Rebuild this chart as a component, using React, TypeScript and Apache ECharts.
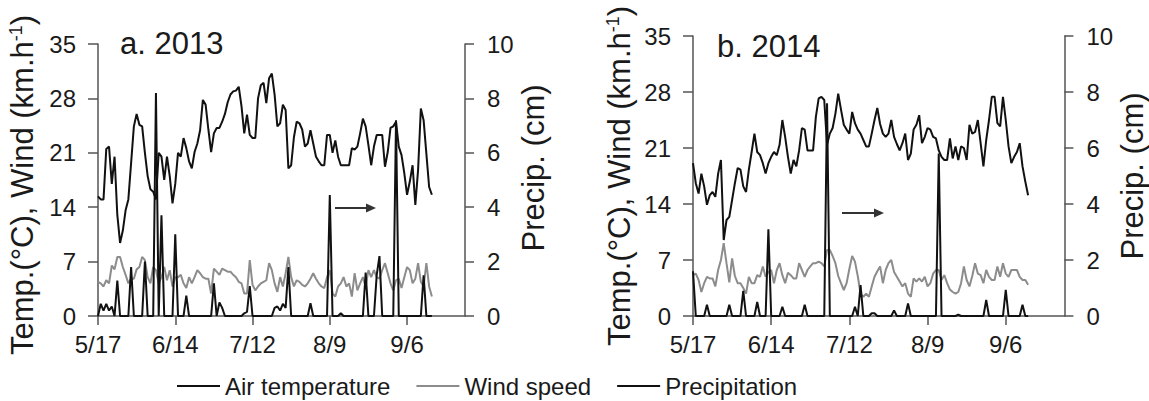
import React, { useEffect, useRef } from 'react';
import * as echarts from 'echarts';

const tickDays = [0, 28, 56, 84, 112];
const tickLabels = ['5/17', '6/14', '7/12', '8/9', '9/6'];
const panelTitles = ['a. 2013', 'b. 2014'];
const seriesNames = ['Air temperature', 'Wind speed', 'Precipitation'];

const temp2013 = [
  15.4, 15, 15, 21.5, 21.8, 17, 20.5, 13, 9.4, 11,
  13.6, 15, 19.7, 24.4, 26, 24.6, 24.4, 21, 18, 16.3,
  16, 15, 21, 20.5, 17.5, 20.5, 18, 14.5, 17, 21,
  20.5, 22.9, 21.6, 19.9, 19, 21.1, 22.2, 23.9, 27.8, 27.2,
  24, 21.1, 23.5, 24.2, 24.2, 25, 26, 27.5, 28.5, 28.9,
  29, 29.5, 27, 23.5, 25.9, 23.3, 22.9, 22.9, 28, 29.7,
  30, 27.4, 30.6, 31.2, 28.5, 24.4, 24.8, 27.2, 26.5, 19,
  19.4, 23, 25, 24.8, 24, 21.8, 22.2, 23.9, 22.2, 20.5,
  19.9, 19.4, 19.4, 23.3, 23.3, 21, 22.6, 20.5, 19.4, 19.4,
  19.4, 19.4, 21.6, 21.4, 21.8, 23.5, 25.4, 24.4, 22, 19.4,
  21.8, 23.3, 23.3, 23.3, 19.2, 21.1, 24.2, 24.4, 25, 21.8,
  20.7, 18.4, 15.6, 17.3, 19.4, 14.3, 18.8, 26.7, 25.2, 20.9,
  16.6, 15.6,
];
const wind2013 = [
  4.4, 4.2, 3.8, 4.6, 4.2, 6.5, 6, 7.6, 7.6, 6.3,
  5.3, 4.2, 4.8, 4.8, 6, 6.3, 7.6, 7.2, 5, 4.2,
  6.3, 5.9, 4.2, 5, 6.3, 4.6, 5.9, 3.8, 5, 5,
  5.3, 4.2, 3.6, 5, 4.2, 5, 5.9, 5.5, 5, 4.8,
  4.8, 2.9, 6.1, 5.7, 5.3, 6.1, 5.9, 5.7, 5.7, 5.3,
  5, 4.4, 4.2, 2.9, 2.9, 7.2, 4, 3.3, 3.8, 4.2,
  4.4, 4.6, 6.8, 5.9, 4.2, 3.1, 5, 3.8, 5.5, 7.6,
  5, 3.8, 4.6, 4.4, 4, 3.8, 4.2, 4.8, 5.5, 4.8,
  4.2, 3.8, 3.6, 5, 5.9, 2.9, 2.5, 3.8, 4.2, 5,
  3.8, 4.2, 2.5, 5.5, 3.3, 4.2, 5, 3.8, 5.9, 5,
  5.9, 5, 4.8, 5.9, 6.8, 5.5, 4.2, 3.3, 4.6, 4.8,
  3.6, 5, 6.3, 5.9, 4.2, 4.8, 6.8, 4.4, 3.8, 6.8,
  3.8, 2.5,
];
const precip2013 = [
  0, 0.45, 0.2, 0.45, 0.2, 0.35, 0, 1.3, 0, 0,
  0, 0, 1.8, 0, 0, 0, 0, 2.0, 0, 0,
  0, 8.2, 0, 3.7, 0, 0, 0, 0, 3.0, 0,
  0, 0, 0.75, 0, 0, 0, 0, 0, 0, 0,
  0, 0, 1.2, 0, 0.5, 0.3, 0, 0, 0, 0,
  0, 0, 0, 0.1, 0.15, 1.1, 0, 0, 0, 0,
  0, 0, 0, 0, 0.3, 0.35, 0.2, 0.45, 0.3, 1.8,
  0, 0, 0, 0, 0, 0, 0, 0.47, 0, 0,
  0, 0, 0, 0, 4.45, 0, 0, 0, 0.1, 0,
  0, 0, 0, 0, 0, 0, 0, 1.6, 0, 0,
  0, 1.5, 2.2, 0, 0, 0, 0, 0, 7.2, 0,
  0, 0, 0, 0, 0, 0, 0, 0, 1.5, 0,
  0, 0,
];

const temp2014 = [
  19.1, 16.6, 15.3, 17.8, 16.2, 13.9, 15.1, 15.5, 14.9, 17.8,
  19.5, 9.5, 12, 12.4, 14.5, 16.6, 18.5, 18.3, 16.2, 15.5,
  18.3, 20.5, 22.8, 20.5, 20.1, 19.1, 17.8, 19.1, 19.9, 20.5,
  20.1, 21.4, 24.5, 22.4, 19.9, 17.8, 19.5, 18.7, 20.7, 23.5,
  23.3, 20.7, 20.7, 20.7, 24.9, 27.2, 27.4, 27, 21.4, 22.8,
  23.5, 25.3, 27.8, 25.8, 23.9, 23.3, 22.8, 25.5, 24.1, 23.3,
  22.8, 22, 21.2, 21.2, 22.8, 24.5, 26, 24, 22.8, 22.4,
  22.8, 24.5, 22.4, 21.5, 20.7, 21.6, 22.8, 19.5, 20.3, 23.3,
  23.9, 25.1, 21.6, 22.4, 23.5, 23.3, 22.4, 22.2, 20.7, 19.9,
  19.5, 19.5, 22.2, 19.7, 21.2, 19.5, 21.2, 21, 19.5, 23.9,
  22.8, 23, 24.5, 21.6, 18.7, 22, 24.5, 27.4, 27.4, 24.1,
  23.7, 27.4, 24.5, 21.2, 19.1, 19.9, 20.5, 21.6, 18.7, 16.8,
  15.1,
];
const wind2014 = [
  5.1, 5.3, 4.5, 3, 4.1, 4.9, 4.7, 4.7, 3.7, 5.75,
  7, 9.1, 6.6, 4.2, 7.2, 5, 4.1, 4.1, 3.5, 2.8,
  4.9, 4.1, 4.1, 5.1, 4.9, 6.2, 4.9, 5.5, 5.75, 4.1,
  5.75, 6.6, 5.1, 4.1, 5.4, 5.1, 4.7, 4.7, 6.6, 5.75,
  4.9, 5.75, 6.2, 6.6, 6.6, 6.8, 6.6, 6.2, 8.25, 8.25,
  7.5, 6.6, 5, 4.1, 3.25, 4.1, 5.9, 7.5, 6.8, 5,
  2.8, 2.4, 2.8, 2.4, 3.7, 4.9, 5.6, 6.2, 4.1, 5.75,
  6.6, 7, 5.5, 4.9, 4.3, 3.7, 4.1, 2.8, 2.4, 4.7,
  4.3, 4.7, 4.3, 4.9, 3.7, 4.1, 5.3, 5.75, 5.75, 4.5,
  5.1, 4.1, 3.3, 3, 2.8, 3, 4.1, 6.2, 4.5, 3.7,
  5, 6.6, 5.3, 5.1, 4.1, 5.75, 4.9, 4.5, 4.5, 6.2,
  4.9, 6.6, 5.3, 4.9, 5.75, 5.75, 5.75, 4.9, 4.5, 4.5,
  3.9,
];
const precip2014 = [
  1.6, 0, 0, 0, 0, 0.4, 0, 0, 0, 0,
  0, 0, 0, 0.4, 0, 0, 0, 0, 0.9, 0,
  0, 0, 0, 0.5, 0, 0, 0, 3.1, 0, 0,
  0, 0, 0.33, 0, 0, 0, 0, 0, 0, 0,
  0.4, 0, 0, 0, 0, 0, 0, 0, 7.6, 0,
  0, 0, 0, 0, 0, 0, 0, 0, 0.33, 0,
  1.1, 0, 0, 0, 0.1, 0.1, 0, 0, 0, 0,
  0, 0, 0.2, 0, 0, 0, 0, 0.45, 0, 0,
  0, 0, 0, 0, 0, 0, 0, 0, 5.8, 0,
  0, 0, 0, 0, 0, 0.05, 0, 0, 0, 0,
  0, 0, 0, 0, 0, 0.57, 0, 0, 0, 0,
  0, 0, 0.93, 0, 0, 0, 0, 0, 0.4, 0,
  0,
];

const panels = [
  { temp: temp2013, wind: wind2013, precip: precip2013 },
  { temp: temp2014, wind: wind2014, precip: precip2014 },
];

const FONT = '"Liberation Sans", Arial, sans-serif';
const AXIS = '#555555';
const LABEL = '#1a1a1a';
const GRAY = '#8c8c8c';

export default function App() {
  const ref = useRef<HTMLDivElement>(null);
  useEffect(() => {
    document.body.style.margin = '0';
    const chart = echarts.init(ref.current!, null, { renderer: 'svg' });

    const grids = [
      { left: 98, top: 44, width: 367, height: 272 },
      { left: 693, top: 36, width: 380, height: 280 },
    ];
    const leftNamePad = [
      [0, 10, 0, 0],
      [0, 0, 0, 0],
    ];
    const rightNamePad = [
      [0, 0, 0, 24],
      [0, 0, 0, 0],
    ];
    const leftNameGap = [60, 58];
    const rightNameGap = [37, 44];

    const xAxis = grids.map((_, i) => ({
      type: 'value',
      gridIndex: i,
      min: 0,
      max: 133,
      axisLine: { show: true, onZero: false, lineStyle: { color: AXIS, width: 1.5 } },
      axisTick: { show: true, customValues: tickDays, length: 9, lineStyle: { color: AXIS, width: 1.5 } },
      axisLabel: {
        customValues: tickDays,
        formatter: (v: number) => {
          const k = tickDays.indexOf(v);
          return k >= 0 ? tickLabels[k] : '';
        },
        fontSize: 24,
        fontFamily: FONT,
        color: LABEL,
        margin: 16,
      },
      splitLine: { show: false },
    }));

    const yAxis: any[] = [];
    grids.forEach((_, i) => {
      yAxis.push({
        type: 'value',
        gridIndex: i,
        position: 'left',
        min: 0,
        max: 35,
        interval: 7,
        axisLine: { show: true, lineStyle: { color: AXIS, width: 1.5 } },
        axisTick: { show: true, length: 10, lineStyle: { color: AXIS, width: 1.5 } },
        axisLabel: { fontSize: 24, fontFamily: FONT, color: LABEL, margin: 22 },
        splitLine: { show: false },
        name: '{m|Temp.(°C), Wind (km.h}{s|-1}{m|)}',
        nameLocation: 'middle',
        nameGap: leftNameGap[i],
        nameTextStyle: {
          padding: leftNamePad[i],
          rich: {
            m: { fontSize: 31, fontFamily: FONT, color: LABEL },
            s: { fontSize: 18, fontFamily: FONT, color: LABEL, verticalAlign: 'top' },
          },
        },
      });
      yAxis.push({
        type: 'value',
        gridIndex: i,
        position: 'right',
        min: 0,
        max: 10,
        interval: 2,
        axisLine: { show: true, lineStyle: { color: AXIS, width: 1.5 } },
        axisTick: { show: true, length: 9, lineStyle: { color: AXIS, width: 1.5 } },
        axisLabel: { fontSize: 24, fontFamily: FONT, color: LABEL, margin: 22 },
        splitLine: { show: false },
        name: 'Precip. (cm)',
        nameLocation: 'middle',
        nameGap: rightNameGap[i],
        nameTextStyle: { fontSize: 31, fontFamily: FONT, color: LABEL, padding: rightNamePad[i] },
      });
    });

    const series: any[] = [];
    panels.forEach((p, i) => {
      series.push({
        name: seriesNames[1],
        type: 'line',
        xAxisIndex: i,
        yAxisIndex: i * 2,
        data: p.wind.map((v, k) => [k, v]),
        symbol: 'none',
        lineStyle: { color: GRAY, width: 2 },
        itemStyle: { color: GRAY },
      });
      series.push({
        name: seriesNames[0],
        type: 'line',
        xAxisIndex: i,
        yAxisIndex: i * 2,
        data: p.temp.map((v, k) => [k, v]),
        symbol: 'none',
        lineStyle: { color: '#111', width: 2 },
        itemStyle: { color: '#111' },
      });
      series.push({
        name: seriesNames[2],
        type: 'line',
        xAxisIndex: i,
        yAxisIndex: i * 2 + 1,
        data: p.precip.map((v, k) => [k, v]),
        symbol: 'none',
        lineStyle: { color: '#111', width: 2 },
        itemStyle: { color: '#111' },
      });
    });

    const arrow = (x1: number, x2: number, y: number) => [
      { type: 'line', shape: { x1, y1: y, x2: x2 - 8, y2: y }, style: { stroke: '#333', lineWidth: 2 } },
      {
        type: 'polygon',
        shape: { points: [[x2 - 10, y - 4.5], [x2, y], [x2 - 10, y + 4.5]] },
        style: { fill: '#333' },
      },
    ];

    chart.setOption({
      animation: false,
      backgroundColor: '#ffffff',
      grid: grids,
      xAxis,
      yAxis,
      series,
      legend: {
        data: seriesNames,
        left: 172,
        top: 369,
        icon: 'rect',
        itemWidth: 43,
        itemHeight: 2,
        itemGap: 26,
        textStyle: { fontSize: 24, fontFamily: FONT, color: LABEL },
      },
      graphic: [
        {
          type: 'text',
          x: 120,
          y: 43,
          style: { text: panelTitles[0], fontSize: 31, fontFamily: FONT, fill: LABEL, align: 'left', verticalAlign: 'middle' },
        },
        {
          type: 'text',
          x: 717,
          y: 46,
          style: { text: panelTitles[1], fontSize: 31, fontFamily: FONT, fill: LABEL, align: 'left', verticalAlign: 'middle' },
        },
        ...arrow(335, 376, 208),
        ...arrow(842, 884, 213),
      ],
    });
    return () => chart.dispose();
  }, []);
  return <div ref={ref} style={{ width: 1149, height: 401 }} />;
}
